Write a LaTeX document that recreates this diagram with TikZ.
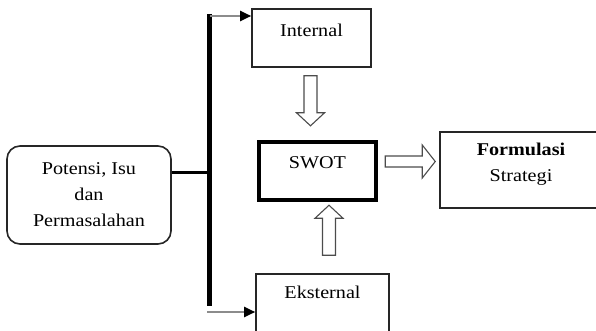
\documentclass[tikz,border=0pt]{standalone}
\usepackage{fontspec}
\setmainfont[FakeStretch=1.12]{Liberation Serif}
\usetikzlibrary{calc,arrows.meta}
\begin{document}
\begin{tikzpicture}[x=1pt,y=-1pt,
  txt/.style={font=\fontsize{18}{26}\selectfont, inner sep=0pt, align=center},
  plainbox/.style={draw=black!85, line width=1.6pt, inner sep=0pt},
  thickbox/.style={draw=black, line width=4.5pt, inner sep=0pt},
  hollow/.style={draw=black!70, line width=1.1pt, fill=white, line join=miter},
  feed/.style={draw=black!45, line width=2pt, -{Triangle[length=11pt,width=10pt,color=black]}}
]
\useasboundingbox (0,0) rectangle (596,331);

% starting box
\node[plainbox, rounded corners=13pt, minimum width=164, minimum height=98,
      txt] (pot) at (89,195) {Potensi, Isu\\dan\\Permasalahan};

% analysis boxes
\node[plainbox, minimum width=119, minimum height=58] (intl) at (311.5,38) {};
\node[txt] (intltxt) at ($(intl.north)+(0,22)$) {Internal};

\node[thickbox, minimum width=117, minimum height=58] (swot) at (317.5,171) {};
\node[txt] (swottxt) at ($(swot.north)+(0,23)$) {SWOT};

\node[plainbox, minimum width=133, minimum height=70] (ekst) at (322.5,309) {};
\node[txt] (eksttxt) at ($(ekst.north)+(0,19)$) {Eksternal};

\node[plainbox, minimum width=162, minimum height=76] (form) at (521,170) {};
\node[txt] (formtxt) at ($(form.north)+(0,33)$) {\textbf{Formulasi}\\Strategi};

% branching bar
\coordinate (bartop) at (209,14);
\coordinate (barbot) at (209,306);
\coordinate (barmid) at (209,172);
\draw[line width=5pt] (bartop) -- (barbot);
\draw[line width=3pt] (pot.east |- barmid) -- (barmid);

\coordinate (topfeed) at (210,16);
\coordinate (botfeed) at (207,312);
\draw[feed] (topfeed) -- (topfeed -| intl.west);
\draw[feed] (botfeed) -- (botfeed -| ekst.west);

% hollow block arrows
% Internal -> SWOT
\draw[hollow] ($(intl.south)+(-1,8)$) ++(-6.5,0) -- ++(0,37) -- ++(-7.5,0)
  -- ++(14,13) -- ++(14,-13) -- ++(-7.5,0) -- ++(0,-37) -- cycle;
% Eksternal -> SWOT
\draw[hollow] ($(swot.south)+(11.5,53)$) ++(-6.5,0) -- ++(0,-37) -- ++(-7.5,0)
  -- ++(14,-13) -- ++(14,13) -- ++(-7.5,0) -- ++(0,37) -- cycle;
% SWOT -> Formulasi
\draw[hollow] ($(swot.east)+(7,-8)$) ++(0,-7) -- ++(37,0) -- ++(0,-11)
  -- ++(13,16.5) -- ++(-13,16.5) -- ++(0,-11) -- ++(-37,0) -- cycle;
\end{tikzpicture}
\end{document}
